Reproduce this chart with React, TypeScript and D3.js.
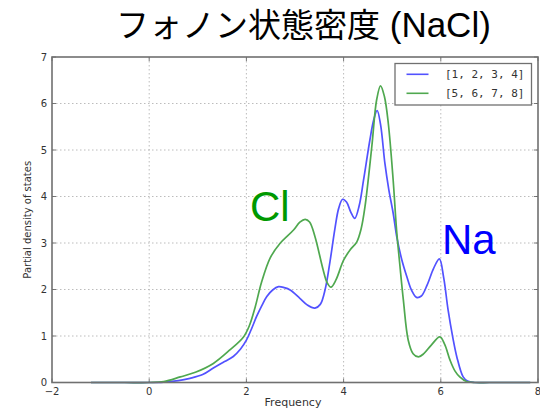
import React from "react";
import * as d3 from "d3";

// Phonon partial density of states for NaCl
const freqNa = [-1.2, -0.5, 0.0, 0.3, 0.6, 0.84, 1.1, 1.32, 1.55, 1.73, 1.88, 2.0, 2.1, 2.21, 2.32, 2.42, 2.54, 2.66, 2.78, 2.9, 3.1, 3.25, 3.41, 3.52, 3.62, 3.72, 3.82, 3.9, 3.98, 4.06, 4.15, 4.23, 4.32, 4.41, 4.54, 4.62, 4.69, 4.76, 4.85, 4.93, 5.02, 5.1, 5.2, 5.3, 5.4, 5.5, 5.6, 5.72, 5.85, 5.97, 6.06, 6.15, 6.25, 6.33, 6.46, 6.55, 6.7, 7.0, 7.84];
const densityNa = [0, 0, 0, 0.01, 0.04, 0.09, 0.17, 0.31, 0.45, 0.56, 0.72, 0.91, 1.14, 1.42, 1.66, 1.85, 1.99, 2.06, 2.04, 1.99, 1.81, 1.67, 1.6, 1.68, 2.0, 2.6, 3.3, 3.75, 3.94, 3.88, 3.66, 3.53, 3.8, 4.35, 5.21, 5.65, 5.85, 5.55, 4.71, 4.15, 3.64, 3.1, 2.63, 2.28, 1.98, 1.83, 1.86, 2.1, 2.45, 2.66, 2.25, 1.56, 0.95, 0.55, 0.12, 0.03, 0, 0, 0];

const freqCl = [-1.2, -0.5, 0.0, 0.3, 0.64, 0.95, 1.32, 1.66, 1.94, 2.06, 2.18, 2.31, 2.49, 2.69, 2.97, 3.1, 3.21, 3.3, 3.41, 3.58, 3.66, 3.74, 3.84, 4.0, 4.14, 4.27, 4.36, 4.44, 4.58, 4.68, 4.76, 4.84, 4.92, 5.02, 5.09, 5.16, 5.23, 5.33, 5.43, 5.54, 5.65, 5.8, 5.98, 6.08, 6.19, 6.29, 6.39, 6.53, 6.7, 7.0, 7.84];
const densityCl = [0, 0, 0, 0.02, 0.12, 0.22, 0.41, 0.7, 0.98, 1.22, 1.62, 2.15, 2.68, 2.99, 3.28, 3.45, 3.51, 3.45, 3.14, 2.42, 2.15, 2.05, 2.2, 2.63, 2.86, 3.02, 3.3, 3.78, 5.07, 6.08, 6.38, 6.15, 5.57, 4.35, 3.28, 2.5, 1.77, 0.91, 0.62, 0.55, 0.62, 0.8, 0.98, 0.82, 0.48, 0.25, 0.12, 0.02, 0, 0, 0];

const xTicks = [-2, 0, 2, 4, 6, 8];
const yTicks = [0, 1, 2, 3, 4, 5, 6, 7];
const legendLabels = ["[1, 2, 3, 4]", "[5, 6, 7, 8]"];
const titleJa = "フォノン状態密度";
const titleFormula = "(NaCl)";

const W = 540;
const H = 409;
const M = { left: 52, right: 538, top: 57, bottom: 382.5 };

const BLUE = "#5252ff";
const GREEN = "#4fa84f";

export default function App() {
  const x = d3.scaleLinear().domain([-2, 8]).range([M.left, M.right]);
  const y = d3.scaleLinear().domain([0, 7]).range([M.bottom, M.top]);

  const line = d3
    .line<[number, number]>()
    .x((d) => x(d[0]))
    .y((d) => y(Math.max(0, d[1])))
    .curve(d3.curveCatmullRom.alpha(0.5));

  const naPts = freqNa.map((f, i) => [f, densityNa[i]] as [number, number]);
  const clPts = freqCl.map((f, i) => [f, densityCl[i]] as [number, number]);

  const tickFont = "DejaVu Sans, sans-serif";
  const series = [
    { label: legendLabels[0], color: BLUE },
    { label: legendLabels[1], color: GREEN },
  ];

  return (
    <svg
      width={W}
      height={H}
      style={{ position: "absolute", left: 0, top: 0, background: "#fff" }}
    >
      <text
        x={116}
        y={37}
        fontFamily="Liberation Sans, Arial, Noto Sans CJK JP, sans-serif"
        fontSize={33}
        fill="#000"
      >
        <tspan>{titleJa}</tspan>
        <tspan fontSize={35}>{" " + titleFormula}</tspan>
      </text>

      {/* grid */}
      <g stroke="#b4b4b4" strokeWidth={0.9} strokeDasharray="1.5,2.5">
        {xTicks.slice(1, -1).map((t) => (
          <line key={"gx" + t} x1={x(t)} x2={x(t)} y1={M.top} y2={M.bottom} />
        ))}
        {yTicks.slice(1, -1).map((t) => (
          <line key={"gy" + t} x1={M.left} x2={M.right} y1={y(t)} y2={y(t)} />
        ))}
      </g>

      {/* inward ticks */}
      <g stroke="#555" strokeWidth={0.8}>
        {xTicks.map((t) => (
          <g key={"tx" + t}>
            <line x1={x(t)} x2={x(t)} y1={M.bottom} y2={M.bottom - 4} />
            <line x1={x(t)} x2={x(t)} y1={M.top} y2={M.top + 4} />
          </g>
        ))}
        {yTicks.map((t) => (
          <g key={"ty" + t}>
            <line x1={M.left} x2={M.left + 4} y1={y(t)} y2={y(t)} />
            <line x1={M.right} x2={M.right - 4} y1={y(t)} y2={y(t)} />
          </g>
        ))}
      </g>

      <path d={line(naPts) ?? ""} fill="none" stroke={BLUE} strokeWidth={1.7} />
      <path d={line(clPts) ?? ""} fill="none" stroke={GREEN} strokeWidth={1.7} />

      {/* frame */}
      <rect
        x={M.left}
        y={M.top}
        width={M.right - M.left}
        height={M.bottom - M.top}
        fill="none"
        stroke="#707070"
        strokeWidth={1.6}
      />

      {/* tick labels */}
      <g fontFamily={tickFont} fontSize={10} fill="#333">
        {xTicks.map((t) => (
          <text key={"lx" + t} x={x(t)} y={M.bottom + 12} textAnchor="middle">
            {t < 0 ? "\u2212" + Math.abs(t) : String(t)}
          </text>
        ))}
        {yTicks.map((t) => (
          <text key={"ly" + t} x={M.left - 5} y={y(t) + 3.5} textAnchor="end">
            {t}
          </text>
        ))}
      </g>

      <text
        x={293}
        y={406}
        textAnchor="middle"
        fontFamily={tickFont}
        fontSize={11}
        fill="#333"
      >
        Frequency
      </text>
      <text
        transform={`translate(31,${(M.top + M.bottom) / 2}) rotate(-90)`}
        textAnchor="middle"
        fontFamily={tickFont}
        fontSize={10}
        fill="#333"
      >
        Partial density of states
      </text>

      {/* legend */}
      <g>
        <rect x={395} y={63.5} width={136.5} height={41.5} fill="#fff" stroke="#707070" strokeWidth={1.3} />
        {series.map((s, i) => (
          <g key={s.label}>
            <line
              x1={406.5}
              x2={428.5}
              y1={74.3 + i * 19}
              y2={74.3 + i * 19}
              stroke={s.color}
              strokeWidth={1.6}
            />
            <text
              x={445}
              y={78 + i * 19}
              fontFamily="DejaVu Sans Mono, monospace"
              fontSize={11}
              fill="#333"
            >
              {s.label}
            </text>
          </g>
        ))}
      </g>

      <text x={250} y={221} fontFamily="Liberation Sans, Arial, sans-serif" fontSize={42} fill="#009900">
        Cl
      </text>
      <text x={442} y={254} fontFamily="Liberation Sans, Arial, sans-serif" fontSize={42} fill="#0000ff">
        Na
      </text>
    </svg>
  );
}
